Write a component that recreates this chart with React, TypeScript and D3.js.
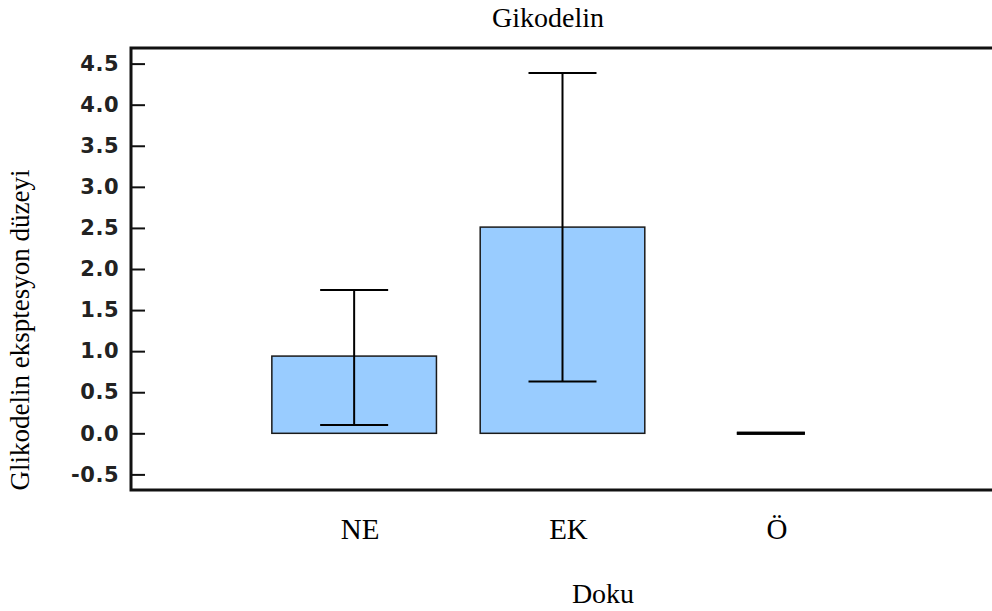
import React, { useRef, useEffect } from 'react';
import * as d3 from 'd3';

const categories = ['NE', 'EK', 'Ö'];
const means = [0.94, 2.51, 0];
const errLow = [0.1, 0.63, 0];
const errHigh = [1.745, 4.385, 0];
const yTicks = [-0.5, 0, 0.5, 1, 1.5, 2, 2.5, 3, 3.5, 4, 4.5];

const W = 992;
const H = 611;
const margin = { left: 131, top: 48, right: -2, bottom: 121 };
const serif = 'Liberation Serif, Times New Roman, serif';

export default function App() {
  const svgRef = useRef<SVGSVGElement>(null);

  useEffect(() => {
    const svg = d3.select(svgRef.current);
    svg.selectAll('*').remove();

    const x = d3
      .scaleBand<string>()
      .domain(categories)
      .range([margin.left, W - margin.right])
      .paddingInner(0.21)
      .paddingOuter(0.676);

    const y = d3
      .scaleLinear()
      .domain([-0.69, 4.69])
      .range([H - margin.bottom, margin.top]);

    const bw = x.bandwidth();
    const cap = 68;

    // bars
    svg
      .selectAll('.bar')
      .data(means)
      .join('rect')
      .attr('class', 'bar')
      .attr('x', (d, i) => x(categories[i])!)
      .attr('y', (d) => y(d))
      .attr('width', bw)
      .attr('height', (d) => y(0) - y(d))
      .attr('fill', '#99ccff')
      .attr('stroke', '#1a1a1a')
      .attr('stroke-width', (d) => (d === 0 ? 0 : 1.5));

    // error bars
    const eb = svg
      .selectAll('.err')
      .data(categories)
      .join('g')
      .attr('class', 'err')
      .attr('stroke', '#000')
      .attr('stroke-width', 2);
    eb.append('line')
      .attr('x1', (c) => x(c)! + bw / 2)
      .attr('x2', (c) => x(c)! + bw / 2)
      .attr('y1', (c, i) => y(errLow[i]))
      .attr('y2', (c, i) => y(errHigh[i]));
    eb.append('line')
      .attr('x1', (c) => x(c)! + bw / 2 - cap / 2)
      .attr('x2', (c) => x(c)! + bw / 2 + cap / 2)
      .attr('y1', (c, i) => y(errHigh[i]))
      .attr('y2', (c, i) => y(errHigh[i]))
      .attr('stroke-width', (c, i) => (means[i] === 0 ? 3 : 2));
    eb.append('line')
      .attr('x1', (c) => x(c)! + bw / 2 - cap / 2)
      .attr('x2', (c) => x(c)! + bw / 2 + cap / 2)
      .attr('y1', (c, i) => y(errLow[i]))
      .attr('y2', (c, i) => y(errLow[i]))
      .attr('stroke-width', (c, i) => (means[i] === 0 ? 3 : 2));

    // y axis with inward ticks
    const yAxis = d3
      .axisRight(y)
      .tickValues(yTicks)
      .tickFormat(d3.format('.1f'))
      .tickSize(14);
    const ya = svg
      .append('g')
      .attr('transform', `translate(${margin.left},0)`)
      .call(yAxis);
    ya.select('.domain').remove();
    ya.selectAll('line').attr('stroke', '#111').attr('stroke-width', 2);
    ya.selectAll('text')
      .attr('x', -12)
      .attr('text-anchor', 'end')
      .attr('font-family', 'DejaVu Sans, Verdana, sans-serif')
      .attr('font-size', 21)
      .attr('font-weight', 'bold')
      .attr('letter-spacing', 0.5)
      .attr('fill', '#222')
      .text((d: any) => d3.format('.1f')(d).replace('−', '-'));

    // frame
    svg
      .append('rect')
      .attr('x', margin.left)
      .attr('y', margin.top)
      .attr('width', W - margin.right - margin.left)
      .attr('height', H - margin.bottom - margin.top)
      .attr('fill', 'none')
      .attr('stroke', '#111')
      .attr('stroke-width', 3);

    // category labels
    svg
      .selectAll('.cat')
      .data(categories)
      .join('text')
      .attr('class', 'cat')
      .attr('x', (c) => x(c)! + bw / 2 + 6)
      .attr('y', 539)
      .attr('text-anchor', 'middle')
      .attr('font-family', serif)
      .attr('font-size', 29)
      .text((c) => c);

    svg
      .append('text')
      .attr('x', 548)
      .attr('y', 27)
      .attr('text-anchor', 'middle')
      .attr('font-family', serif)
      .attr('font-size', 28)
      .text('Gikodelin');

    svg
      .append('text')
      .attr('x', 603)
      .attr('y', 603)
      .attr('text-anchor', 'middle')
      .attr('font-family', serif)
      .attr('font-size', 28)
      .text('Doku');

    svg
      .append('text')
      .attr('transform', 'translate(29,330) rotate(-90)')
      .attr('text-anchor', 'middle')
      .attr('font-family', serif)
      .attr('font-size', 27)
      .text('Glikodelin eksptesyon düzeyi');
  }, []);

  return (
    <div style={{ position: 'absolute', left: 0, top: 0 }}>
      <svg ref={svgRef} width={W} height={H} style={{ display: 'block', background: '#fff' }} />
    </div>
  );
}
